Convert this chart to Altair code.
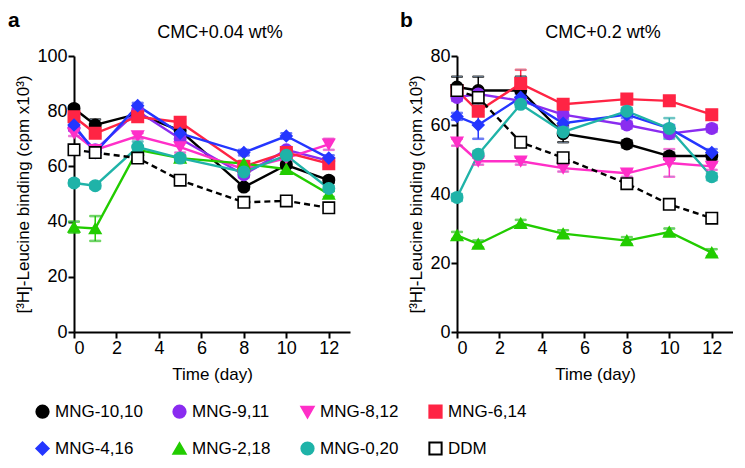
import altair as alt
import pandas as pd

days = [0, 1, 3, 5, 8, 10, 12]
series = ["MNG-10,10", "MNG-9,11", "MNG-8,12", "MNG-6,14",
          "MNG-4,16", "MNG-2,18", "MNG-0,20", "DDM"]
colors = ["#000000", "#8a2cf0", "#ff2fc8", "#ff2444",
          "#2436ff", "#22cc00", "#1fb3a8", "#000000"]
fills = ["#000000", "#8a2cf0", "#ff2fc8", "#ff2444",
         "#2436ff", "#22cc00", "#1fb3a8", "#ffffff"]
shapes = ["circle", "circle", "triangle-down", "square",
          "diamond", "triangle-up", "circle", "square"]
dashed_series = "DDM"

# Panel a: CMC + 0.04 wt%
a_mng_10_10 = [81, 75, 79, 73, 52.5, 60.5, 55]
a_mng_9_11 = [74, 66, 80, 70, 57, 66, 62]
a_mng_8_12 = [72, 66, 71, 67, 59, 63, 68]
a_mng_6_14 = [78, 72, 78, 76, 60, 65, 61]
a_mng_4_16 = [75, 65, 82, 72, 65, 71, 63]
a_mng_2_18 = [38, 37.5, 66, 63, 61, 59, 50]
a_mng_0_20 = [54, 53, 67, 63, 58, 64, 52]
a_ddm = [66, 65, 63, 55, 47, 47.5, 45]
a_err = {
    "MNG-10,10": [1, 2, 1, 1, 1, 1, 1],
    "MNG-9,11": [1, 1, 1, 1, 1, 1, 1],
    "MNG-8,12": [1, 1, 1, 2, 1, 1, 2],
    "MNG-6,14": [1, 1, 1, 1, 1, 1, 1],
    "MNG-4,16": [1, 1, 1, 1, 1, 1, 1],
    "MNG-2,18": [2, 4.5, 1, 1, 1, 1, 1],
    "MNG-0,20": [1, 1, 2, 1, 1, 1, 1],
    "DDM": [1, 1, 1, 1, 1, 1, 1],
}

# Panel b: CMC + 0.2 wt%
b_mng_10_10 = [71, 70, 70, 57.5, 54.5, 51, 51]
b_mng_9_11 = [68, 69, 67, 63, 60, 57.5, 59]
b_mng_8_12 = [55, 49.5, 49.5, 47.5, 46, 49, 48]
b_mng_6_14 = [70, 64, 72, 66, 67.5, 67, 63]
b_mng_4_16 = [62.5, 60, 68, 60.5, 63, 59, 52]
b_mng_2_18 = [28, 25.5, 31.5, 28.5, 26.5, 29, 23]
b_mng_0_20 = [39, 51.5, 66, 58, 64, 59, 45]
b_ddm = [70, 68, 55, 50.5, 43, 37, 33]
b_err = {
    "MNG-10,10": [3, 4, 4, 2.5, 1, 1, 1],
    "MNG-9,11": [1, 1, 1, 1, 1, 1, 1],
    "MNG-8,12": [1, 1, 1, 1, 1, 4, 1],
    "MNG-6,14": [1, 1, 4, 1, 1, 1, 1],
    "MNG-4,16": [1, 4, 1, 1, 1, 1, 1],
    "MNG-2,18": [1, 1, 1, 1, 1, 1, 1],
    "MNG-0,20": [1, 1, 1, 1, 1, 3, 1],
    "DDM": [1, 1, 1, 1, 1, 1, 1],
}

a_vals = [a_mng_10_10, a_mng_9_11, a_mng_8_12, a_mng_6_14,
          a_mng_4_16, a_mng_2_18, a_mng_0_20, a_ddm]
b_vals = [b_mng_10_10, b_mng_9_11, b_mng_8_12, b_mng_6_14,
          b_mng_4_16, b_mng_2_18, b_mng_0_20, b_ddm]

FONT = "Liberation Sans"
YTITLE = "[³H]-Leucine binding (cpm x10³)"
W, H = 276, 276


def make_df(vals, errs):
    rows = []
    for s, v in zip(series, vals):
        for d, val, e in zip(days, v, errs[s]):
            rows.append({"series": s, "day": d, "value": val,
                         "lo": val - e, "hi": val + e})
    return pd.DataFrame(rows)


stroke_scale = alt.Scale(domain=series, range=colors)
fill_scale = alt.Scale(domain=series, range=fills)
shape_scale = alt.Scale(domain=series, range=shapes)

legend = alt.Legend(title=None, orient="none", legendX=-40, legendY=347,
                    direction="horizontal", columns=4, columnPadding=26,
                    rowPadding=16, gridAlign="each",
                    labelFontSize=17, labelFont=FONT, symbolSize=150,
                    symbolStrokeWidth=2, symbolOpacity=1, labelLimit=200)


def panel(vals, errs, ymax, title, letter, letter_x):
    df = make_df(vals, errs)
    base = alt.Chart(df)
    x = alt.X("day:Q", scale=alt.Scale(domain=[0, 13], nice=False),
              axis=alt.Axis(values=[0, 2, 4, 6, 8, 10, 12], title="Time (day)"))
    y = alt.Y("value:Q", scale=alt.Scale(domain=[0, ymax], nice=False),
              axis=alt.Axis(values=list(range(0, ymax + 1, 20)), title=YTITLE))
    order = alt.Order("day:Q")
    stroke = alt.Stroke("series:N", scale=stroke_scale, legend=legend)
    solid = base.transform_filter(
        alt.datum.series != dashed_series
    ).mark_line(strokeWidth=2.4).encode(
        x=x, y=y, order=order, stroke=stroke, detail="series:N",
    )
    dashed = base.transform_filter(
        alt.datum.series == dashed_series
    ).mark_line(strokeWidth=2.4, strokeDash=[6, 4]).encode(
        x="day:Q", y="value:Q", order=order, stroke=stroke,
    )
    rule = base.mark_rule(strokeWidth=1.5).encode(
        x="day:Q", y="lo:Q", y2="hi:Q", stroke=stroke,
    )
    cap_lo = base.mark_tick(orient="horizontal", size=11, thickness=1.5).encode(
        x="day:Q", y="lo:Q", stroke=stroke,
    )
    cap_hi = base.mark_tick(orient="horizontal", size=11, thickness=1.5).encode(
        x="day:Q", y="hi:Q", stroke=stroke,
    )
    pts = base.mark_point(size=130, filled=False, strokeWidth=1.6, opacity=1).encode(
        x="day:Q", y="value:Q",
        shape=alt.Shape("series:N", scale=shape_scale, legend=legend),
        fill=alt.Fill("series:N", scale=fill_scale, legend=legend),
        stroke=stroke,
    )
    lab = alt.Chart(pd.DataFrame({"t": [letter]})).mark_text(
        font=FONT, fontSize=21, fontWeight="bold", align="left", baseline="top"
    ).encode(x=alt.value(letter_x), y=alt.value(-46), text="t:N")
    ttl = alt.Chart(pd.DataFrame({"t": [title]})).mark_text(
        font=FONT, fontSize=18, align="center", baseline="middle", color="black"
    ).encode(x=alt.value(W / 2 + 8), y=alt.value(-23), text="t:N")
    return alt.layer(solid, dashed, rule, cap_lo, cap_hi, pts, lab, ttl).properties(
        width=W, height=H,
    )


left = panel(a_vals, a_err, 100, "CMC+0.04 wt%", "a", -66)
right = panel(b_vals, b_err, 80, "CMC+0.2 wt%", "b", -57)

chart = alt.hconcat(left, right, spacing=50).resolve_scale(
    x="independent", y="independent"
).properties(
    padding={"left": 0, "top": 2, "right": 0, "bottom": 0}
).configure_view(stroke=None).configure_axis(
    grid=False, domainColor="black", domainWidth=2, tickColor="black",
    tickWidth=2, tickSize=6, labelFontSize=18, labelFont=FONT,
    labelColor="black", titleFontSize=17, titleFont=FONT,
    titleFontWeight="normal", titleColor="black", labelPadding=1,
).configure_axisY(titlePadding=4).configure_axisX(titlePadding=9)

chart.save("out.html", embed_options={"renderer": "svg", "actions": False})
